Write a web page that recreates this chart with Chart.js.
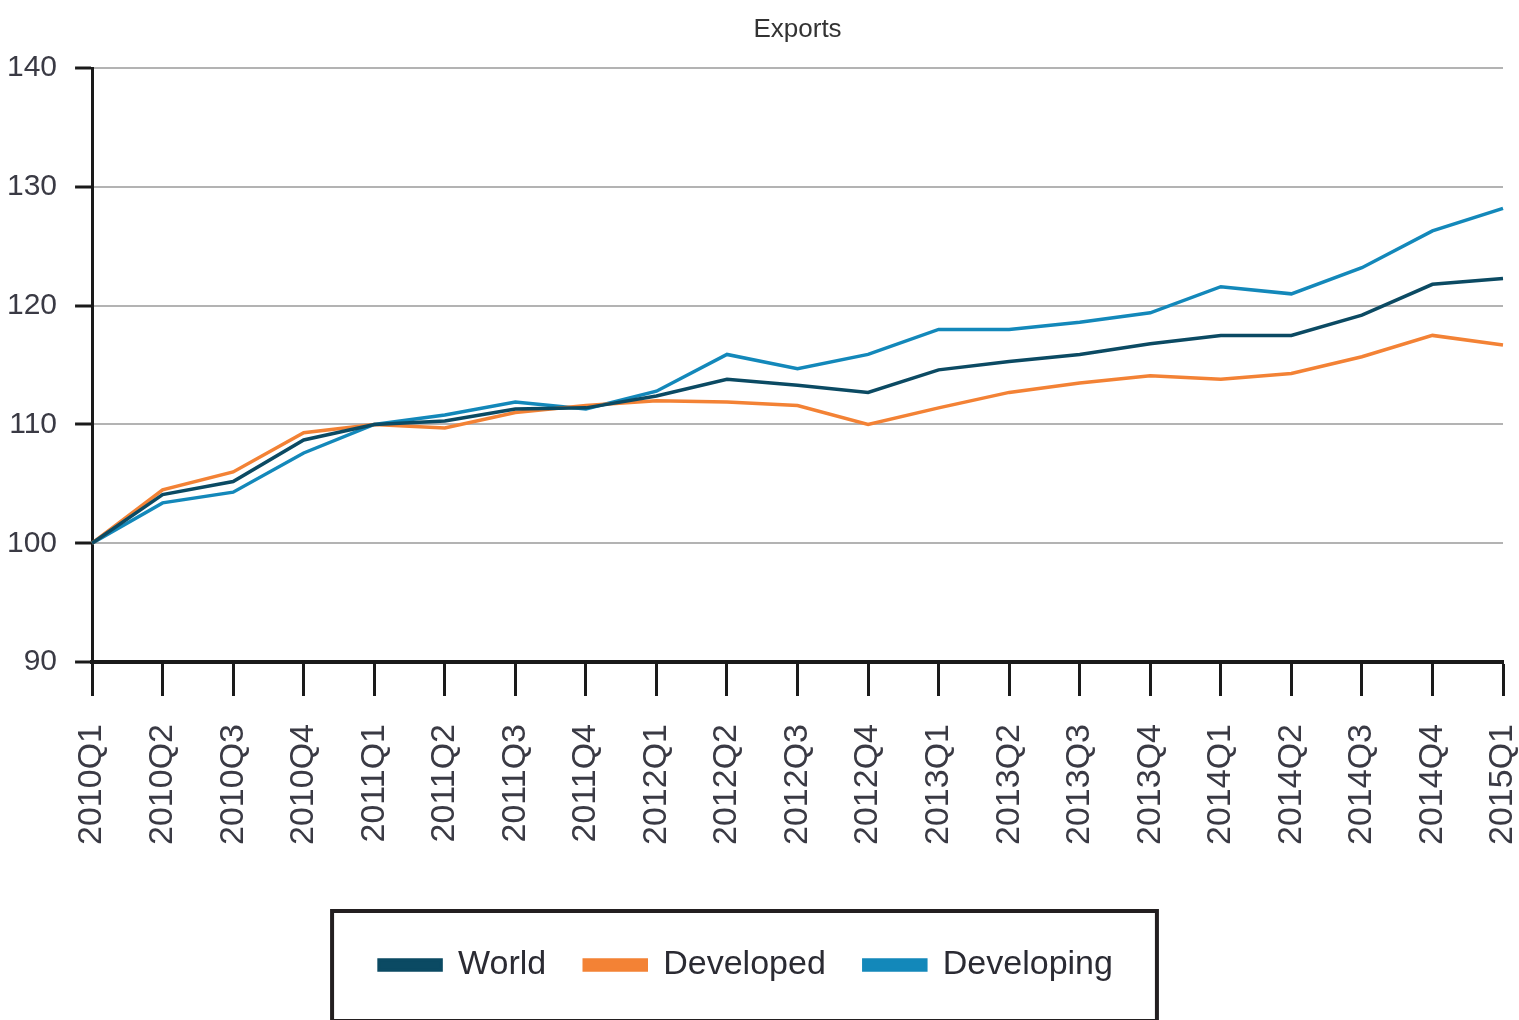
<!DOCTYPE html>
<html>
<head>
<meta charset="utf-8">
<script src="https://cdn.jsdelivr.net/npm/chart.js@4"></script>
<style>
  html, body { margin: 0; padding: 0; background: #fff; }
  #wrap { width: 1519px; height: 1020px; }
</style>
</head>
<body>
<div id="wrap"><canvas id="myChart" width="1519" height="1020"></canvas></div>
<script>
const QUARTERS = [
  "2010Q1", "2010Q2", "2010Q3", "2010Q4",
  "2011Q1", "2011Q2", "2011Q3", "2011Q4",
  "2012Q1", "2012Q2", "2012Q3", "2012Q4",
  "2013Q1", "2013Q2", "2013Q3", "2013Q4",
  "2014Q1", "2014Q2", "2014Q3", "2014Q4",
  "2015Q1",
];

// index, 2010Q1 = 100
const WORLD = [100, 104.1, 105.2, 108.7, 110.0, 110.3, 111.3, 111.4, 112.4, 113.8, 113.3, 112.7, 114.6, 115.3, 115.9, 116.8, 117.5, 117.5, 119.2, 121.8, 122.3];
const DEVELOPED = [100, 104.5, 106.0, 109.3, 110.0, 109.7, 111.0, 111.6, 112.0, 111.9, 111.6, 110.0, 111.4, 112.7, 113.5, 114.1, 113.8, 114.3, 115.7, 117.5, 116.7];
const DEVELOPING = [100, 103.4, 104.3, 107.6, 110.0, 110.8, 111.9, 111.3, 112.8, 115.9, 114.7, 115.9, 118.0, 118.0, 118.6, 119.4, 121.6, 121.0, 123.2, 126.3, 128.2];

const Y_MIN = 90;
const Y_MAX = 140;
const Y_STEP = 10;

const FONT = "'Liberation Sans', Arial, sans-serif";

// the title sits over the plot area, the legend a bit left of it
const titleOverPlot = {
  id: "titleOverPlot",
  afterLayout(chart) {
    const t = chart.titleBlock;
    const a = chart.chartArea;
    const shift = (a.left + a.right) / 2 - (t.left + t.right) / 2;
    t.left += shift;
    t.right += shift;
  },
};

// frame round the legend, like the printed figure
const legendFrame = {
  id: "legendFrame",
  afterDraw(chart) {
    const boxes = chart.legend.legendHitBoxes;
    if (!boxes || !boxes.length) return;
    const left = Math.min(...boxes.map((b) => b.left)) - 47;
    const right = Math.max(...boxes.map((b) => b.left + b.width)) + 44;
    const mid = boxes[0].top + boxes[0].height / 2;
    const ctx = chart.ctx;
    ctx.save();
    ctx.strokeStyle = "#231f20";
    ctx.lineWidth = 4;
    ctx.strokeRect(left, mid - 54, right - left, 110);
    ctx.restore();
  },
};

function line(label, data, color) {
  return {
    label: label,
    data: data,
    borderColor: color,
    backgroundColor: color,
    borderWidth: 3.5,
    pointRadius: 0,
    tension: 0,
    clip: false,
  };
}

var ctx = document.getElementById("myChart").getContext("2d");
var myChart = new Chart(ctx, {
  type: "line",
  data: {
    labels: QUARTERS,
    datasets: [
      line("World", WORLD, "#0b4a63"),
      line("Developed", DEVELOPED, "#f38235"),
      line("Developing", DEVELOPING, "#1388ba"),
    ],
  },
  plugins: [titleOverPlot, legendFrame],
  options: {
    responsive: false,
    animation: false,
    layout: { padding: { left: -11, right: 16, top: 4, bottom: 28 } },
    plugins: {
      title: {
        display: true,
        text: "Exports",
        color: "#333",
        font: { family: FONT, size: 26, weight: "normal" },
        padding: { top: 10, bottom: 23 },
      },
      legend: {
        position: "bottom",
        labels: {
          color: "#2b2b33",
          font: { family: FONT, size: 34 },
          boxWidth: 62,
          boxHeight: 10,
          padding: 38,
        },
      },
      tooltip: { enabled: false },
    },
    scales: {
      x: {
        offset: false,
        grid: {
          drawOnChartArea: false,
          tickColor: "#1a1a1a",
          tickWidth: 3,
          tickLength: 34,
        },
        border: { color: "#1a1a1a", width: 4 },
        ticks: {
          color: "#3a3a44",
          font: { family: FONT, size: 34 },
          minRotation: 90,
          maxRotation: 90,
          autoSkip: false,
          padding: 28,
        },
        // white gap between the labels and the legend, last point on the right edge
        afterFit: (scale) => {
          scale.height = 248;
          scale.paddingLeft = 0;
          scale.paddingRight = 0;
        },
      },
      y: {
        min: Y_MIN,
        max: Y_MAX,
        grid: {
          color: "#b3b3b3",
          lineWidth: 2,
          tickColor: "#1a1a1a",
          tickWidth: 3,
          tickLength: 17,
        },
        border: { color: "#1a1a1a", width: 3 },
        ticks: {
          stepSize: Y_STEP,
          color: "#3a3a44",
          font: { family: FONT, size: 30 },
          padding: 18,
        },
      },
    },
  },
});
</script>
</body>
</html>
